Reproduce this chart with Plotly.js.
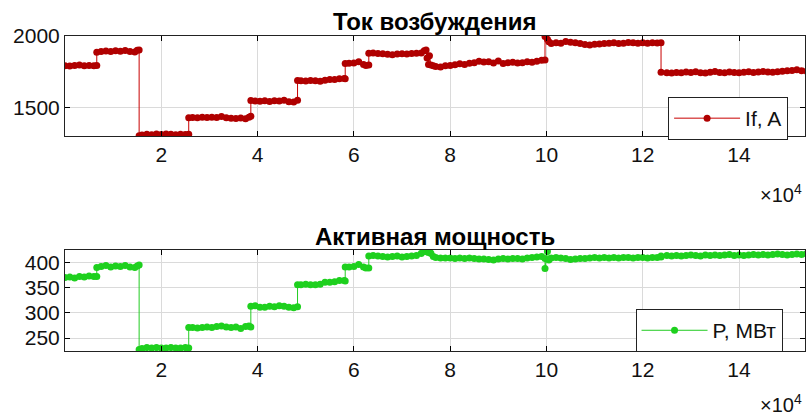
<!DOCTYPE html>
<html>
<head>
<meta charset="utf-8">
<script src="https://cdn.plot.ly/plotly-3.0.1.min.js"></script>
<style>html,body{margin:0;padding:0;background:#fff;}#chart{width:806px;height:420px;}</style>
</head>
<body>
<div id="chart"></div>
<script>
// time, in units of 10^4 (shared by both series)
const timeE4 = [
  0,0.1,0.2,0.3,0.4,0.5,0.6,0.66,
  0.66,0.75,0.85,0.95,1.05,1.15,1.25,1.35,1.45,1.5,1.54,
  1.54,1.6,1.7,1.8,1.9,2.0,2.1,2.2,2.3,2.4,2.5,2.57,
  2.57,2.65,2.75,2.85,2.95,3.05,3.15,3.25,3.35,3.45,3.55,3.65,3.75,3.82,3.86,
  3.86,3.95,4.05,4.15,4.25,4.35,4.45,4.55,4.65,4.75,4.83,
  4.83,4.9,5.0,5.1,5.2,5.3,5.4,5.5,5.6,5.7,5.8,5.82,
  5.82,5.9,6.0,6.1,6.2,6.25,6.31,
  6.31,6.4,6.5,6.6,6.7,6.8,6.9,7.0,7.1,7.2,7.3,7.4,7.46,7.5,
  7.52,7.55,7.57,7.6,7.65,7.7,7.8,7.9,8.0,8.1,8.2,8.3,8.4,8.5,8.6,8.7,8.8,8.9,9.0,9.1,9.2,9.3,9.4,9.5,9.6,9.7,9.8,9.9,9.97,
  9.97,10.02,10.05,10.1,10.2,10.3,10.4,10.5,10.6,10.7,10.8,10.9,11.0,11.1,11.2,11.3,11.4,11.5,11.6,11.7,11.8,11.9,12.0,12.1,12.2,12.3,12.38,
  12.38,12.5,12.6,12.7,12.8,12.9,13.0,13.1,13.2,13.3,13.4,13.5,13.6,13.7,13.8,13.9,14.0,14.1,14.2,14.3,14.4,14.5,14.6,14.7,14.8,14.9,15.0,15.1,15.2,15.3,15.4
];

// Field current If, A
const fieldCurrent = [
  1790,1788,1792,1795,1790,1793,1791,1792,
  1885,1890,1893,1889,1895,1892,1896,1890,1886,1898,1900,
  1303,1308,1312,1310,1314,1311,1315,1312,1310,1313,1311,1312,
  1428,1430,1427,1431,1429,1432,1430,1436,1428,1425,1422,1426,1420,1432,1438,
  1548,1545,1543,1546,1542,1547,1545,1549,1540,1538,1550,
  1688,1686,1684,1687,1685,1683,1690,1695,1694,1700,1702,1700,
  1806,1808,1810,1818,1800,1792,1795,
  1878,1880,1876,1874,1870,1868,1872,1874,1873,1876,1878,1880,1895,1900,
  1845,1800,1860,1795,1790,1786,1782,1790,1792,1798,1805,1800,1808,1812,1822,1816,1818,1810,1823,1806,1812,1815,1810,1812,1818,1815,1822,1828,1830,
  1995,1975,1958,1945,1950,1948,1960,1955,1950,1945,1938,1935,1940,1942,1945,1948,1950,1945,1947,1952,1950,1948,1950,1948,1951,1949,1950,
  1745,1742,1740,1744,1741,1746,1743,1748,1742,1740,1745,1750,1743,1741,1746,1744,1742,1745,1748,1744,1746,1750,1747,1745,1749,1752,1755,1758,1762,1755,1752
];

// Active power P, MW
const activePower = [
  370,371,369,372,371,373,372,372,
  390,392,394,391,393,392,394,391,390,393,395,
  227,229,231,230,231,230,230,231,230,230,231,230,
  271,271,270,271,272,271,273,274,272,271,272,269,273,274,272,
  313,314,311,311,313,312,314,313,311,310,312,
  356,356,357,356,356,357,361,361,362,364,364,363,
  391,391,392,396,391,389,389,
  413,414,413,412,411,412,413,411,412,413,414,418,422,423,
  421,420,422,418,412,410,409,409,409,408,409,408,409,408,407,407,406,405,407,408,407,408,408,407,409,410,411,412,408,
  388,422,405,409,410,409,408,406,407,408,408,409,410,409,410,409,410,409,410,410,409,410,410,409,410,410,411,
  413,414,413,414,413,414,415,414,413,415,414,415,414,415,416,414,415,414,415,416,415,416,415,416,417,416,415,416,417,416,417
];

const xTicks = [2,4,6,8,10,12,14];
const ifTicks = [1500,2000];
const pTicks = [250,300,350,400];
const seriesNames = ['If, A','P, МВт'];
const panelTitles = ['Ток возбуждения','Активная мощность'];

const FONT = 'Liberation Sans, Arial, sans-serif';

const traces = [
  {x: timeE4, y: fieldCurrent, xaxis:'x', yaxis:'y', name: seriesNames[0], legend:'legend',
   mode:'lines+markers', line:{color:'#c80000', width:1}, marker:{color:'#b00000', size:7}},
  {x: timeE4, y: activePower, xaxis:'x2', yaxis:'y2', name: seriesNames[1], legend:'legend2',
   mode:'lines+markers', line:{color:'#22cc22', width:1}, marker:{color:'#1ed01e', size:7}}
];

const xCommon = {
  range:[0,15.37], tickvals:xTicks, ticks:'inside', ticklen:5, tickcolor:'#000',
  showline:true, linecolor:'#222', linewidth:1, mirror:'ticks',
  showgrid:true, gridcolor:'#dadada', gridwidth:1, zeroline:false,
  tickfont:{family:FONT, size:21, color:'#111'}
};
const yCommon = {
  ticks:'inside', ticklen:5, tickcolor:'#000',
  showline:true, linecolor:'#222', linewidth:1, mirror:'ticks',
  showgrid:true, gridcolor:'#dadada', gridwidth:1, zeroline:false,
  tickfont:{family:FONT, size:21, color:'#111'}
};

const legendCommon = {
  bgcolor:'#fff', bordercolor:'#222', borderwidth:1, itemwidth:66,
  font:{family:FONT, size:21, color:'#111'}, xanchor:'left', yanchor:'top'
};

const layout = {
  width:806, height:420,
  margin:{l:65, r:1, t:0, b:0},
  paper_bgcolor:'#fff', plot_bgcolor:'#fff',
  showlegend:true,
  xaxis: Object.assign({}, xCommon, {anchor:'y'}),
  yaxis: Object.assign({}, yCommon, {domain:[0.676,0.915], range:[1300,2000], tickvals:ifTicks, anchor:'x'}),
  xaxis2: Object.assign({}, xCommon, {anchor:'y2'}),
  yaxis2: Object.assign({}, yCommon, {domain:[0.164,0.405], range:[224,425], tickvals:pTicks, anchor:'x2'}),
  legend: Object.assign({}, legendCommon, {x:0.815, y:0.769}),
  legend2: Object.assign({}, legendCommon, {x:0.771, y:0.264}),
  annotations:[
    {text:'<b>'+panelTitles[0]+'</b>', xref:'paper', yref:'paper', x:0.5, y:0.95, xanchor:'center', yanchor:'middle', showarrow:false, font:{family:FONT, size:24, color:'#000'}},
    {text:'<b>'+panelTitles[1]+'</b>', xref:'paper', yref:'paper', x:0.5, y:0.438, xanchor:'center', yanchor:'middle', showarrow:false, font:{family:FONT, size:24, color:'#000'}},
    {text:'×10<sup>4</sup>', xref:'paper', yref:'paper', x:0.998, y:0.54, xanchor:'right', yanchor:'middle', showarrow:false, font:{family:FONT, size:20, color:'#111'}},
    {text:'×10<sup>4</sup>', xref:'paper', yref:'paper', x:0.998, y:0.04, xanchor:'right', yanchor:'middle', showarrow:false, font:{family:FONT, size:20, color:'#111'}}
  ]
};

Plotly.newPlot('chart', traces, layout, {displayModeBar:false, staticPlot:true});
</script>
</body>
</html>
